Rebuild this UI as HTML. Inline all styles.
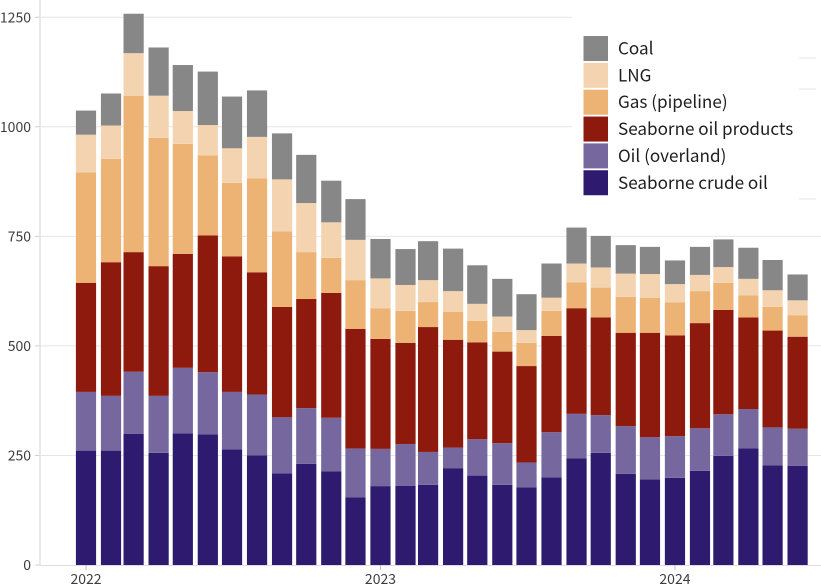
<!DOCTYPE html>
<html>
<head>
<meta charset="utf-8">
<style>
html,body{margin:0;padding:0;background:#fff;}
svg{display:block;font-family:"Noto Sans CJK SC","Liberation Sans",sans-serif;}
</style>
</head>
<body>
<svg id="chart" width="821" height="588" viewBox="0 0 821 588" xmlns="http://www.w3.org/2000/svg"></svg>
<script>
const months = ["2022-01","2022-02","2022-03","2022-04","2022-05","2022-06","2022-07","2022-08","2022-09","2022-10","2022-11","2022-12","2023-01","2023-02","2023-03","2023-04","2023-05","2023-06","2023-07","2023-08","2023-09","2023-10","2023-11","2023-12","2024-01","2024-02","2024-03","2024-04","2024-05","2024-06"];
const crude = [261,261,299,256,300,298,264,250,209,231,214,154,180,181,183,221,204,183,177,200,243,256,208,195,199,215,249,266,227,226];
const overland = [134,125,142,130,150,142,131,139,128,127,122,112,85,95,75,47,83,95,57,103,102,86,109,97,95,97,95,90,87,85];
const products = [249,305,273,296,260,312,309,279,252,249,285,273,251,231,285,246,221,209,220,220,241,223,213,238,230,240,238,209,221,210];
const pipeline = [252,236,357,293,251,183,168,214,172,107,80,111,70,73,57,64,49,45,53,57,59,68,82,80,75,73,62,50,54,49];
const lng = [86,76,97,96,75,69,79,95,119,112,81,92,68,59,50,47,39,35,29,30,43,46,53,54,42,37,36,38,38,34];
const coal = [55,73,90,110,105,122,118,106,105,110,95,93,90,82,89,97,88,86,82,78,82,72,65,62,54,64,63,71,69,59];
const yTicks = [0,250,500,750,1000,1250];
const xTicks = ["2022","2023","2024"];
const seriesNames = ["Seaborne crude oil","Oil (overland)","Seaborne oil products","Gas (pipeline)","LNG","Coal"];
const seriesColors = ["#2e1a6e","#76689f","#8e1a0e","#ecb374","#f4d4b0","#878787"];
const seriesValues = [crude,overland,products,pipeline,lng,coal];

const NS = "http://www.w3.org/2000/svg";
const svg = document.getElementById("chart");
const yAxis = v => 565 - v * 0.4382;
const xAxis = s => {
  const p = s.split("-");
  const days = (Date.UTC(+p[0], (+p[1] || 1) - 1, 1) - Date.UTC(2022, 0, 1)) / 86400000;
  return 86 + days * 0.8068;
};
function make(tag, attrs, text) {
  const el = document.createElementNS(NS, tag);
  for (const k in attrs) el.setAttribute(k, attrs[k]);
  if (text !== undefined) el.textContent = text;
  svg.appendChild(el);
  return el;
}

// gridlines and y ticks
yTicks.forEach(t => {
  const y = yAxis(t);
  if (t > 0) {
    const g = make("line", {x1:40, x2:821, y1:y, y2:y, stroke:"#e6e6e6", "stroke-width":1});
    
    
  }
  const m = make("line", {x1:35, x2:40, y1:y, y2:y, stroke:"#cfcfcf", "stroke-width":1});
  
  
  const l = make("text", {x:31, y:y + 5, "text-anchor":"end", "font-size":14, fill:"#3c3c3c"}, String(t));
  
  
});

// legend backdrop hiding gridlines
const backdrop = make("rect", {x:572, y:0, width:249, height:216, fill:"#fff"});


[58, 89, 199].forEach(y => {
  const s = make("line", {x1:799, x2:816, y1:y, y2:y, stroke:"#e6e6e6", "stroke-width":1});
  
  
});

// bars
months.forEach((mo, i) => {
  let cum = 0;
  seriesValues.forEach((vals, s) => {
    const y0 = yAxis(cum);
    cum += vals[i];
    const y1 = yAxis(cum);
    const r = make("rect", {x:xAxis(mo) - 10.1, y:y1, width:20.2, height:y0 - y1, fill:seriesColors[s]});
    
    
  });
});

// axes
const ax = make("line", {x1:40, x2:40, y1:0, y2:565.5, stroke:"#e2e2e2", "stroke-width":1.5});


const bx = make("line", {x1:40, x2:821, y1:565.5, y2:565.5, stroke:"#dcdce4", "stroke-width":1});


xTicks.forEach(t => {
  const x = xAxis(t);
  const m = make("line", {x1:x, x2:x, y1:565, y2:570, stroke:"#bdbdbd", "stroke-width":1});
  
  
  const l = make("text", {x:x, y:584, "text-anchor":"middle", "font-size":14, fill:"#3c3c3c"}, t);
  
  
});

// legend
for (let s = 5; s >= 0; s--) {
  const row = 5 - s;
  const top = 36 + row * 26.85;
  const k = make("rect", {x:583.5, y:top, width:24.5, height:25, fill:seriesColors[s]});
  
  
  const l = make("text", {x:618, y:top + 18.5, "font-size":17.1, fill:"#1e1e1e"}, seriesNames[s]);
  
  
}
</script>
</body>
</html>
